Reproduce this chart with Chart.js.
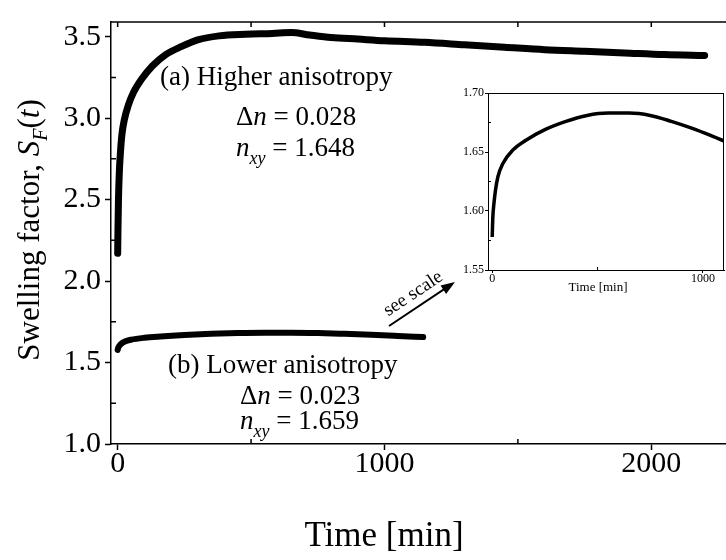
<!DOCTYPE html>
<html>
<head>
<meta charset="utf-8">
<script src="https://cdn.jsdelivr.net/npm/chart.js@4.4.0/dist/chart.umd.min.js"></script>
<style>
html, body { margin: 0; padding: 0; background: #fff; overflow: hidden; }
#wrap { position: relative; width: 726px; height: 560px; }
#mainChart { position: absolute; left: 0; top: 0; }
#insetChart { position: absolute; left: 440px; top: 82px; }
</style>
</head>
<body>
<div id="wrap">
    <canvas id="mainChart" width="726" height="560"></canvas>
    <canvas id="insetChart" width="286" height="230"></canvas>
</div>
<script>
// (a) higher anisotropy
const timeA = [0, 1, 3, 6, 10, 16, 25, 40, 60, 90, 130, 180, 240, 300, 380, 480, 580, 650, 720, 800, 900, 1000, 1150, 1300, 1450, 1600, 1750, 1900, 2050, 2200];
const swellA = [2.17, 2.30, 2.50, 2.66, 2.78, 2.90, 2.99, 3.08, 3.16, 3.24, 3.32, 3.39, 3.44, 3.48, 3.505, 3.515, 3.52, 3.525, 3.51, 3.495, 3.485, 3.475, 3.465, 3.45, 3.435, 3.42, 3.41, 3.40, 3.39, 3.385];
// (b) lower anisotropy (also shown in the inset)
const timeB = [0, 3, 8, 15, 27, 50, 100, 160, 250, 350, 450, 550, 650, 750, 850, 950, 1050, 1145];
const swellB = [1.578, 1.595, 1.606, 1.617, 1.629, 1.640, 1.652, 1.660, 1.669, 1.676, 1.681, 1.683, 1.683, 1.681, 1.676, 1.670, 1.663, 1.656];

const xTicks = [0, 500, 1000, 1500, 2000];
const yTicks = [1.0, 1.25, 1.5, 1.75, 2.0, 2.25, 2.5, 2.75, 3.0, 3.25, 3.5];
const insetXTicks = [0, 500, 1000];
const insetYTicks = [1.55, 1.575, 1.60, 1.625, 1.65, 1.675, 1.70];

const serif = "'Liberation Serif', 'Times New Roman', serif";

function toPoints(xs, ys){
    return xs.map((x, i) => ({x: x, y: ys[i]}));
}

function isMultiple(v, step){
    return Math.abs(v / step - Math.round(v / step)) < 1e-6;
}

// draws a line of text made of several runs (normal / italic / subscript)
function drawRuns(ctx, x, y, runs, align){
    let total = 0;
    runs.forEach(r => { ctx.font = r[1]; total += ctx.measureText(r[0]).width; });
    let cx = align === "center" ? x - total / 2 : x;
    runs.forEach(r => {
        ctx.font = r[1];
        ctx.fillText(r[0], cx, y + (r[2] || 0));
        cx += ctx.measureText(r[0]).width;
    });
}

const frameTicks = {
    id: "frameTicks",
    afterDraw(chart, args, opts){
        const ctx = chart.ctx;
        const area = chart.chartArea;
        const xs = chart.scales.x, ys = chart.scales.y;
        ctx.save();
        ctx.strokeStyle = "#000";
        ctx.lineWidth = opts.lw;
        // top frame line
        ctx.beginPath();
        ctx.moveTo(area.left, area.top);
        ctx.lineTo(area.right + 1, area.top);
        ctx.stroke();
        // minor ticks pointing inward, top ticks pointing down
        ctx.beginPath();
        opts.xTicks.forEach(v => {
            const px = xs.getPixelForValue(v);
            if (!isMultiple(v, opts.xMajor)) {
                ctx.moveTo(px, area.bottom); ctx.lineTo(px, area.bottom - opts.minor);
            }
            ctx.moveTo(px, area.top); ctx.lineTo(px, area.top + opts.minor);
        });
        opts.yTicks.forEach(v => {
            if (!isMultiple(v, opts.yMajor)) {
                const py = ys.getPixelForValue(v);
                ctx.moveTo(area.left, py); ctx.lineTo(area.left + opts.minor, py);
            }
        });
        ctx.stroke();
        ctx.restore();
    }
};

const mainText = {
    id: "mainText",
    afterDraw(chart){
        const ctx = chart.ctx;
        ctx.save();
        ctx.fillStyle = "#000";
        ctx.textBaseline = "alphabetic";
        const f = "27px " + serif, fi = "italic 27px " + serif, fs = "italic 18px " + serif;

        // y title
        ctx.save();
        ctx.translate(39, 230);
        ctx.rotate(-Math.PI / 2);
        drawRuns(ctx, 0, 0, [["Swelling factor, ", "31px " + serif], ["S", "italic 31px " + serif], ["F", "italic 20px " + serif, 8], ["(", "31px " + serif], ["t", "italic 31px " + serif], [")", "31px " + serif]], "center");
        ctx.restore();

        // x title
        drawRuns(ctx, 384, 546, [["Time [min]", "35px " + serif]], "center");

        // annotation (a)
        drawRuns(ctx, 160, 85, [["(a) Higher anisotropy", f]], "left");
        drawRuns(ctx, 236, 125, [["\u0394", f], ["n", fi], [" = 0.028", f]], "left");
        drawRuns(ctx, 236, 156, [["n", fi], ["xy", fs, 8], [" = 1.648", f]], "left");

        // annotation (b)
        drawRuns(ctx, 168, 373, [["(b) Lower anisotropy", f]], "left");
        drawRuns(ctx, 240, 404, [["\u0394", f], ["n", fi], [" = 0.023", f]], "left");
        drawRuns(ctx, 240, 429, [["n", fi], ["xy", fs, 8], [" = 1.659", f]], "left");

        // arrow pointing to the inset
        const x0 = 389, y0 = 326, x1 = 455, y1 = 282;
        const ang = Math.atan2(y1 - y0, x1 - x0);
        ctx.strokeStyle = "#000";
        ctx.lineWidth = 2;
        ctx.beginPath();
        ctx.moveTo(x0, y0);
        ctx.lineTo(x1 - 8 * Math.cos(ang), y1 - 8 * Math.sin(ang));
        ctx.stroke();
        ctx.beginPath();
        ctx.moveTo(x1, y1);
        ctx.lineTo(x1 - 14 * Math.cos(ang) + 5 * Math.sin(ang), y1 - 14 * Math.sin(ang) - 5 * Math.cos(ang));
        ctx.lineTo(x1 - 14 * Math.cos(ang) - 5 * Math.sin(ang), y1 - 14 * Math.sin(ang) + 5 * Math.cos(ang));
        ctx.closePath();
        ctx.fill();
        ctx.save();
        ctx.translate((x0 + x1) / 2 - 6, (y0 + y1) / 2 - 6);
        ctx.rotate(ang);
        ctx.textAlign = "center";
        ctx.font = "19px " + serif;
        ctx.fillText("see scale", 0, 0);
        ctx.restore();

        ctx.restore();
    }
};

function tickColor(step){
    return c => (c.tick && isMultiple(c.tick.value, step)) ? "#000" : "rgba(0,0,0,0)";
}

const mainChart = new Chart(document.getElementById("mainChart"), {
    type: "scatter",
    data: {
        datasets: [{
            label: "(a) Higher anisotropy",
            data: toPoints(timeA, swellA),
            showLine: true,
            borderColor: "#000",
            borderWidth: 7,
            borderCapStyle: "round",
            pointRadius: 0,
            cubicInterpolationMode: "monotone"
        }, {
            label: "(b) Lower anisotropy",
            data: toPoints(timeB, swellB),
            showLine: true,
            borderColor: "#000",
            borderWidth: 6,
            borderCapStyle: "round",
            pointRadius: 0,
            cubicInterpolationMode: "monotone"
        }]
    },
    options: {
        responsive: false,
        animation: false,
        layout: { padding: { top: 14, left: 0, right: 0, bottom: 0 } },
        plugins: {
            legend: { display: false },
            tooltip: { enabled: false },
            frameTicks: { xTicks: xTicks, yTicks: yTicks, xMajor: 1000, yMajor: 0.5, minor: 5, lw: 1.5 }
        },
        scales: {
            x: {
                type: "linear",
                min: -25,
                max: 2280,
                afterBuildTicks: s => { s.ticks = xTicks.map(v => ({value: v})); },
                afterFit: s => { s.height = 116; },
                ticks: {
                    autoSkip: false, maxRotation: 0, padding: -4,
                    color: "#000",
                    font: { family: serif, size: 30 },
                    callback: v => isMultiple(v, 1000) ? String(v) : ""
                },
                grid: { drawOnChartArea: false, tickLength: 6, tickWidth: 1.5, tickColor: tickColor(1000) },
                border: { display: true, color: "#000", width: 1.5 }
            },
            y: {
                type: "linear",
                min: 1.0,
                max: 3.59,
                afterBuildTicks: s => { s.ticks = yTicks.map(v => ({value: v})); },
                afterFit: s => { s.width = 111; },
                ticks: {
                    autoSkip: false, padding: 4,
                    color: "#000",
                    font: { family: serif, size: 30 },
                    callback: v => isMultiple(v, 0.5) ? v.toFixed(1) : ""
                },
                grid: { drawOnChartArea: false, tickLength: 6, tickWidth: 1.5, tickColor: tickColor(0.5) },
                border: { display: true, color: "#000", width: 1.5 }
            }
        }
    },
    plugins: [frameTicks, mainText]
});

const insetFrame = {
    id: "insetFrame",
    afterDraw(chart){
        const ctx = chart.ctx;
        const area = chart.chartArea;
        const xs = chart.scales.x, ys = chart.scales.y;
        ctx.save();
        ctx.strokeStyle = "#000";
        ctx.lineWidth = 1;
        ctx.strokeRect(area.left + 0.5, area.top + 0.5, area.right - area.left - 1, area.bottom - area.top);
        ctx.beginPath();
        insetXTicks.forEach(v => {
            if (!isMultiple(v, 1000)) {
                const px = xs.getPixelForValue(v);
                ctx.moveTo(px, area.bottom); ctx.lineTo(px, area.bottom - 3);
            }
        });
        insetYTicks.forEach(v => {
            if (!isMultiple(v, 0.05)) {
                const py = ys.getPixelForValue(v);
                ctx.moveTo(area.left, py); ctx.lineTo(area.left + 3, py);
            }
        });
        ctx.stroke();
        ctx.fillStyle = "#000";
        ctx.textAlign = "center";
        ctx.font = "13px " + serif;
        ctx.fillText("Time [min]", 158, 209);
        ctx.restore();
    }
};

const insetChart = new Chart(document.getElementById("insetChart"), {
    type: "scatter",
    data: {
        datasets: [{
            label: "(b) Lower anisotropy",
            data: toPoints(timeB, swellB),
            showLine: true,
            borderColor: "#000",
            borderWidth: 3.5,
            pointRadius: 0,
            cubicInterpolationMode: "monotone"
        }]
    },
    options: {
        responsive: false,
        animation: false,
        layout: { padding: { top: 11, left: 0, right: 2, bottom: 0 } },
        plugins: { legend: { display: false }, tooltip: { enabled: false } },
        scales: {
            x: {
                type: "linear",
                min: -20,
                max: 1100,
                afterBuildTicks: s => { s.ticks = insetXTicks.map(v => ({value: v})); },
                afterFit: s => { s.height = 42; },
                ticks: {
                    autoSkip: false, maxRotation: 0, padding: -1,
                    color: "#000",
                    font: { family: serif, size: 12 },
                    callback: v => isMultiple(v, 1000) ? String(v) : ""
                },
                grid: { drawOnChartArea: false, tickLength: 3, tickColor: tickColor(1000) },
                border: { display: true, color: "#000", width: 1 }
            },
            y: {
                type: "linear",
                min: 1.55,
                max: 1.70,
                afterBuildTicks: s => { s.ticks = insetYTicks.map(v => ({value: v})); },
                afterFit: s => { s.width = 48; },
                ticks: {
                    autoSkip: false, padding: 1,
                    color: "#000",
                    font: { family: serif, size: 12 },
                    callback: v => isMultiple(v, 0.05) ? v.toFixed(2) : ""
                },
                grid: { drawOnChartArea: false, tickLength: 3, tickColor: tickColor(0.05) },
                border: { display: true, color: "#000", width: 1 }
            }
        }
    },
    plugins: [insetFrame]
});
</script>
</body>
</html>
